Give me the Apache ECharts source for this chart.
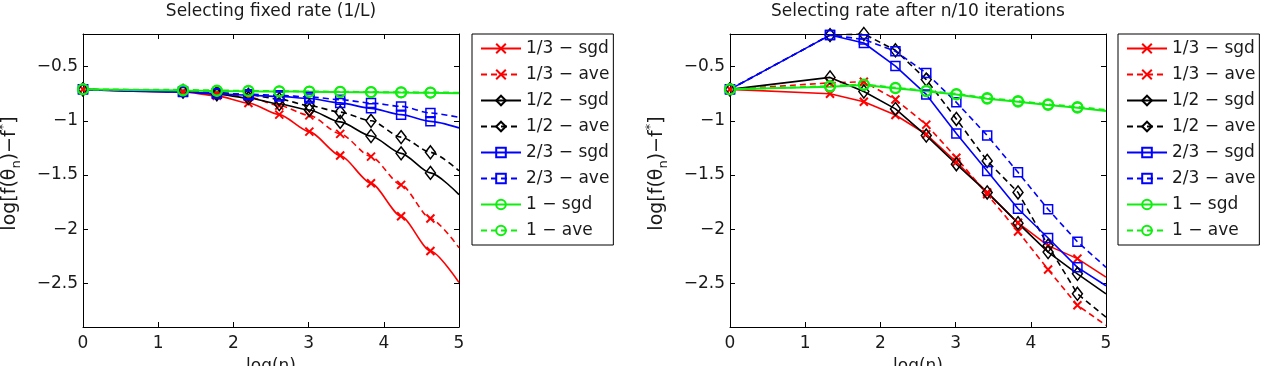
<!DOCTYPE html>
<html><head><meta charset="utf-8">
<script src="https://cdn.jsdelivr.net/npm/echarts@6/dist/echarts.min.js"></script>
<style>html,body{margin:0;padding:0;background:#fff}#c{width:1268px;height:366px}</style>
</head><body><div id="c"></div>
<script>
// ---- data ----
const xPoints = [0, 1.33, 1.78, 2.2, 2.61, 3.01, 3.42, 3.83, 4.23, 4.62, 5];
const xTicks = [0, 1, 2, 3, 4, 5];
const yTicks = [-2.5, -2, -1.5, -1, -0.5];
const seriesNames = ['1/3 \u2212 sgd', '1/3 \u2212 ave', '1/2 \u2212 sgd', '1/2 \u2212 ave', '2/3 \u2212 sgd', '2/3 \u2212 ave', '1 \u2212 sgd', '1 \u2212 ave'];
const titles = ['Selecting fixed rate (1/L)', 'Selecting rate after n/10 iterations'];

// left panel: fixed rate (1/L)
const fixedSgd13 = [-0.71, -0.735, -0.77, -0.836, -0.943, -1.1, -1.32, -1.575, -1.88, -2.2, -2.49];
const fixedAve13 = [-0.71, -0.73, -0.745, -0.78, -0.86, -0.95, -1.12, -1.33, -1.59, -1.9, -2.17];
const fixedSgd12 = [-0.71, -0.73, -0.755, -0.79, -0.845, -0.9, -1.01, -1.14, -1.3, -1.48, -1.68];
const fixedAve12 = [-0.71, -0.725, -0.74, -0.76, -0.8, -0.86, -0.92, -1.0, -1.15, -1.29, -1.46];
const fixedSgd23 = [-0.71, -0.735, -0.75, -0.765, -0.775, -0.795, -0.835, -0.885, -0.943, -1.005, -1.065];
const fixedAve23 = [-0.71, -0.73, -0.745, -0.755, -0.765, -0.78, -0.805, -0.836, -0.867, -0.928, -0.968];
const fixedSgd1  = [-0.71, -0.72, -0.725, -0.728, -0.73, -0.732, -0.735, -0.737, -0.74, -0.742, -0.745];
const fixedAve1  = [-0.71, -0.715, -0.72, -0.724, -0.727, -0.73, -0.732, -0.735, -0.737, -0.739, -0.741];

// right panel: rate after n/10 iterations
const afterSgd13 = [-0.71, -0.75, -0.824, -0.946, -1.124, -1.38, -1.66, -1.94, -2.15, -2.27, -2.44];
const afterAve13 = [-0.71, -0.65, -0.64, -0.803, -1.035, -1.34, -1.677, -2.02, -2.37, -2.7, -2.885];
const afterSgd12 = [-0.71, -0.6, -0.73, -0.89, -1.136, -1.4, -1.66, -1.943, -2.21, -2.41, -2.594];
const afterAve12 = [-0.71, -0.21, -0.2, -0.35, -0.62, -0.983, -1.37, -1.66, -2.15, -2.594, -2.81];
const afterSgd23 = [-0.71, -0.21, -0.283, -0.496, -0.757, -1.117, -1.463, -1.81, -2.08, -2.35, -2.52];
const afterAve23 = [-0.71, -0.21, -0.25, -0.36, -0.56, -0.83, -1.135, -1.475, -1.815, -2.115, -2.35];
const afterSgd1  = [-0.71, -0.685, -0.67, -0.7, -0.728, -0.757, -0.796, -0.824, -0.854, -0.879, -0.909];
const afterAve1  = [-0.71, -0.68, -0.665, -0.695, -0.723, -0.752, -0.79, -0.818, -0.848, -0.872, -0.9];

// ---- styles ----
const FONT = 'DejaVu Sans';
const TXT = '#1a1a1a';
const RED = '#ff0000', BLACK = '#000000', BLUE = '#0000ff', GREEN = '#10ee10';
const styles = [
  {color: RED, symbol: 'path://M0,0L10,10M10,0L0,10', size: 8, bw: 2, dash: false, lw: 1.6},
  {color: RED, symbol: 'path://M0,0L10,10M10,0L0,10', size: 8, bw: 2, dash: true, lw: 1.6},
  {color: BLACK, symbol: 'diamond', size: [10, 13], bw: 1.5, dash: false, lw: 1.6},
  {color: BLACK, symbol: 'diamond', size: [10, 13], bw: 1.5, dash: true, lw: 1.6},
  {color: BLUE, symbol: 'rect', size: 9, bw: 1.5, dash: false, lw: 1.6},
  {color: BLUE, symbol: 'rect', size: 9, bw: 1.5, dash: true, lw: 1.6},
  {color: GREEN, symbol: 'circle', size: 10, bw: 2, dash: false, lw: 2},
  {color: GREEN, symbol: 'circle', size: 10, bw: 2, dash: true, lw: 2}
];
const leftData = [fixedSgd13, fixedAve13, fixedSgd12, fixedAve12, fixedSgd23, fixedAve23, fixedSgd1, fixedAve1];
const rightData = [afterSgd13, afterAve13, afterSgd12, afterAve12, afterSgd23, afterAve23, afterSgd1, afterAve1];

const gridTop = 34, gridH = 293, gridW = 376;
const gridLefts = [83, 730];

function fmt(v) { return String(v).replace('-', '\u2212'); }

const xAxes = [], yAxes = [];
gridLefts.forEach((gl, g) => {
  ['bottom', 'top'].forEach((pos, k) => {
    xAxes.push({
      type: 'value', gridIndex: g, position: pos, min: 0, max: 5,
      axisLine: {show: true, onZero: false, lineStyle: {color: '#000', width: 1}},
      axisTick: {show: true, inside: true, length: 5, customValues: xTicks, lineStyle: {color: '#000'}},
      axisLabel: {show: k === 0, customValues: xTicks, margin: 8, fontFamily: FONT, fontSize: 17, color: TXT, formatter: fmt},
      splitLine: {show: false},
      name: k === 0 ? 'log(n)' : '', nameLocation: 'middle', nameGap: 31,
      nameTextStyle: {fontFamily: FONT, fontSize: 17, color: TXT}
    });
  });
  ['left', 'right'].forEach((pos, k) => {
    yAxes.push({
      type: 'value', gridIndex: g, position: pos, min: -2.9, max: -0.2,
      axisLine: {show: true, onZero: false, lineStyle: {color: '#000', width: 1}},
      axisTick: {show: true, inside: true, length: 5, customValues: yTicks, lineStyle: {color: '#000'}},
      axisLabel: {show: k === 0, customValues: yTicks, margin: 5, fontFamily: FONT, fontSize: 17, color: TXT, formatter: fmt},
      splitLine: {show: false},
      name: k === 0 ? 'log[f(\u03b8{sub|n})\u2212f{sup|*}]' : '', nameLocation: 'middle', nameGap: 60, nameRotate: 90,
      nameTextStyle: {
        fontFamily: FONT, fontSize: 19, color: TXT, lineHeight: 26, padding: [0, 0, 0, 14],
        rich: {
          sub: {fontFamily: FONT, fontSize: 13, color: TXT, lineHeight: 13, verticalAlign: 'bottom'},
          sup: {fontFamily: FONT, fontSize: 13, color: TXT, lineHeight: 13, verticalAlign: 'top'}
        }
      }
    });
  });
});

const series = [];
[leftData, rightData].forEach((panel, g) => {
  panel.forEach((ys, i) => {
    const st = styles[i];
    const last = xPoints.length - 1;
    series.push({
      name: seriesNames[i], type: 'line',
      xAxisIndex: g * 2, yAxisIndex: g * 2,
      smooth: g === 0 ? 0.25 : false, smoothMonotone: 'x',
      symbol: st.symbol, symbolSize: st.size, showAllSymbol: true,
      data: xPoints.map((x, j) => j === last ? {value: [x, ys[j]], symbol: 'none'} : [x, ys[j]]),
      lineStyle: {color: st.color, width: st.lw, type: st.dash ? [6, 4] : 'solid'},
      itemStyle: {color: 'rgba(0,0,0,0)', borderColor: st.color, borderWidth: st.bw},
      emphasis: {disabled: true},
      clip: true,
      animation: false
    });
  });
});

const legends = [472, 1118].map(lx => ({
  orient: 'vertical', left: lx, top: 34,
  data: seriesNames,
  borderColor: '#000', borderWidth: 1, backgroundColor: '#fff',
  padding: [6, 4, 6, 8], itemWidth: 40, itemHeight: 12, itemGap: 9,
  selectedMode: false,
  textStyle: {fontFamily: FONT, fontSize: 17, lineHeight: 17, color: TXT}
}));

const chart = echarts.init(document.getElementById('c'), null, {renderer: 'canvas'});
chart.setOption({
  animation: false,
  backgroundColor: '#fff',
  grid: gridLefts.map(gl => ({left: gl, top: gridTop, width: gridW, height: gridH, containLabel: false, outerBoundsMode: 'none'})),
  xAxis: xAxes,
  yAxis: yAxes,
  legend: legends,
  graphic: titles.map((t, g) => ({
    type: 'text', x: gridLefts[g] + gridW / 2, y: 12,
    style: {text: t, fontFamily: FONT, fontSize: 17, fill: TXT, align: 'center', verticalAlign: 'middle'}
  })),
  series: series
});
</script>
</body></html>
